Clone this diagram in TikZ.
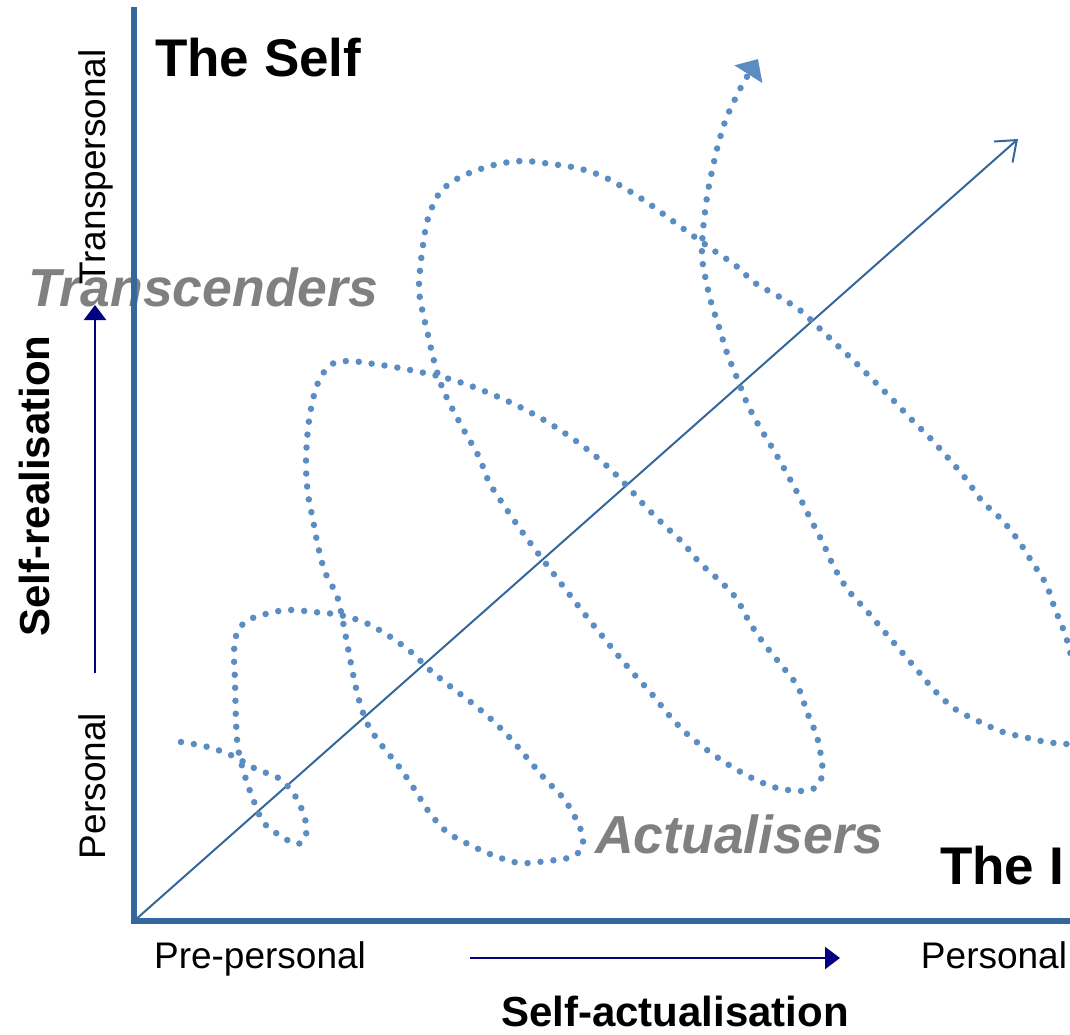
\documentclass[tikz,border=0pt]{standalone}
\usepackage{fontspec}
\setmainfont{Liberation Sans}
\usetikzlibrary{arrows.meta,calc,positioning}

\definecolor{axisblue}{RGB}{52,103,156}
\definecolor{dotblue}{RGB}{91,141,194}
\definecolor{arrownavy}{RGB}{0,0,128}
\definecolor{labelgrey}{RGB}{128,128,128}

\begin{document}
\begin{tikzpicture}[x=1pt,y=-1pt,
  axis/.style={draw=axisblue,line width=5.5pt},
  diag/.style={draw=axisblue,line width=2pt,-{Straight Barb[length=18pt,width=28pt]}},
  spiral/.style={draw=dotblue,line width=6.5pt,line cap=round,dash pattern=on 0pt off 13pt},
  scalearrow/.style={draw=arrownavy,line width=2.5pt,-{Triangle[length=15pt,width=22pt]}},
  bigtitle/.style={font=\fontsize{53}{60}\selectfont\bfseries,inner sep=0pt},
  grouplabel/.style={font=\fontsize{53.5}{60}\selectfont\bfseries\itshape,text=labelgrey,inner sep=0pt},
  axistitle/.style={font=\fontsize{42}{50}\selectfont\bfseries,inner sep=0pt},
  ticklabel/.style={font=\fontsize{37}{44}\selectfont,inner sep=0pt}]
\useasboundingbox (0,0) rectangle (1070,1035);

\node[grouplabel,anchor=base west] (trans) at (28,306) {Transcenders};
\node[grouplabel,anchor=base west] (actu) at (595,853) {Actualisers};

\coordinate (O) at (134,921);
\coordinate (Ytop) at (134,7);
\coordinate (Xend) at (1070,921);
\coordinate (D) at (1018,139);
\draw[axis] (Ytop) -- (O) -- (Xend);
\draw[diag] (O) -- (D);

\begin{scope}
\clip (0,0) rectangle (1070,1035);
\draw[spiral,-{Triangle[length=18pt,width=32pt]}] plot[smooth,tension=0.55] coordinates {
  (181,742) (208,747) (233,756) (256,769) (280,779) (297,799) (306,823) (305,838)
  (297,844) (284,838) (264,823) (253,799) (244,773) (238,748) (236,721) (235,681)
  (234,654) (236,636) (245,622) (262,615) (287,610) (314,612) (340,615) (366,623)
  (389,636) (411,652) (430,670) (451,687) (472,703) (492,720) (511,739) (528,759)
  (545,779) (564,799) (577,821) (583,838) (580,851) (568,858) (547,861) (520,863)
  (495,856) (470,845) (447,832) (429,812) (415,790) (400,768) (383,747) (368,725)
  (359,700) (353,674) (348,648) (343,622) (337,596) (325,572) (318,546) (313,520)
  (308,494) (306,467) (307,440) (310,414) (316,388) (324,372) (334,363) (350,361)
  (367,363) (394,367) (420,372) (446,378) (471,386) (496,396) (520,407) (544,420)
  (566,434) (588,450) (608,467) (627,486) (645,506) (664,525) (683,543) (700,563)
  (720,581) (736,598) (750,623) (765,645) (782,666) (798,687) (807,712) (817,737)
  (822,763) (822,776) (816,787) (803,791) (777,788) (752,778) (729,765) (707,750)
  (686,733) (668,714) (651,693) (633,673) (616,653) (599,632) (583,612) (566,590)
  (550,569) (534,548) (518,526) (503,504) (489,482) (479,457) (466,434) (453,410)
  (442,387) (434,361) (428,335) (422,309) (419,290) (420,270) (423,245) (427,222)
  (433,205) (441,191) (455,180) (472,172) (498,164) (524,161) (551,164) (577,168)
  (602,176) (626,189) (648,203) (670,219) (692,235) (713,250) (735,265) (755,283)
  (778,296) (801,311) (817,326) (837,345) (856,363) (875,382) (894,401) (912,420)
  (931,439) (949,459) (966,479) (982,501) (1001,519) (1018,540) (1032,562) (1046,584)
  (1055,609) (1065,634) (1072,660) (1080,700) (1084,728) (1078,742) (1067,744) (1054,743)
  (1041,741) (1028,738) (1003,732) (978,721) (955,709) (935,691) (918,671) (900,650)
  (883,630) (866,610) (848,590) (834,567) (823,543) (811,520) (799,496) (786,472)
  (773,449) (759,426) (747,403) (737,378) (727,353) (719,327) (711,302) (705,276)
  (702,256) (703,230) (707,197) (712,171) (718,145) (726,119) (737,95) (745,80) (758,59)};
\end{scope}

\node[bigtitle,anchor=base west] (self) at (155,77) {The Self};
\node[bigtitle,anchor=base west] (theI) at (940,884) {The I};

\node[ticklabel,rotate=90,anchor=base] (transp) at (105,167) {Transpersonal};
\node[ticklabel,rotate=90,anchor=base] (persy) at (105,786) {Personal};
\node[axistitle,rotate=90,anchor=base] (realis) at (49,486) {Self-realisation};
\coordinate (ra) at (95,673);
\coordinate (rb) at (95,305);
\draw[scalearrow] (ra) -- (rb);

\node[ticklabel,anchor=base] (prep) at (260,968) {Pre-personal};
\node[ticklabel,anchor=base] (persx) at (994,968) {Personal};
\node[axistitle,anchor=base] (actual) at (675,1026) {Self-actualisation};
\coordinate (aa) at (470,958);
\coordinate (ab) at (840,958);
\draw[scalearrow] (aa) -- (ab);
\end{tikzpicture}
\end{document}
